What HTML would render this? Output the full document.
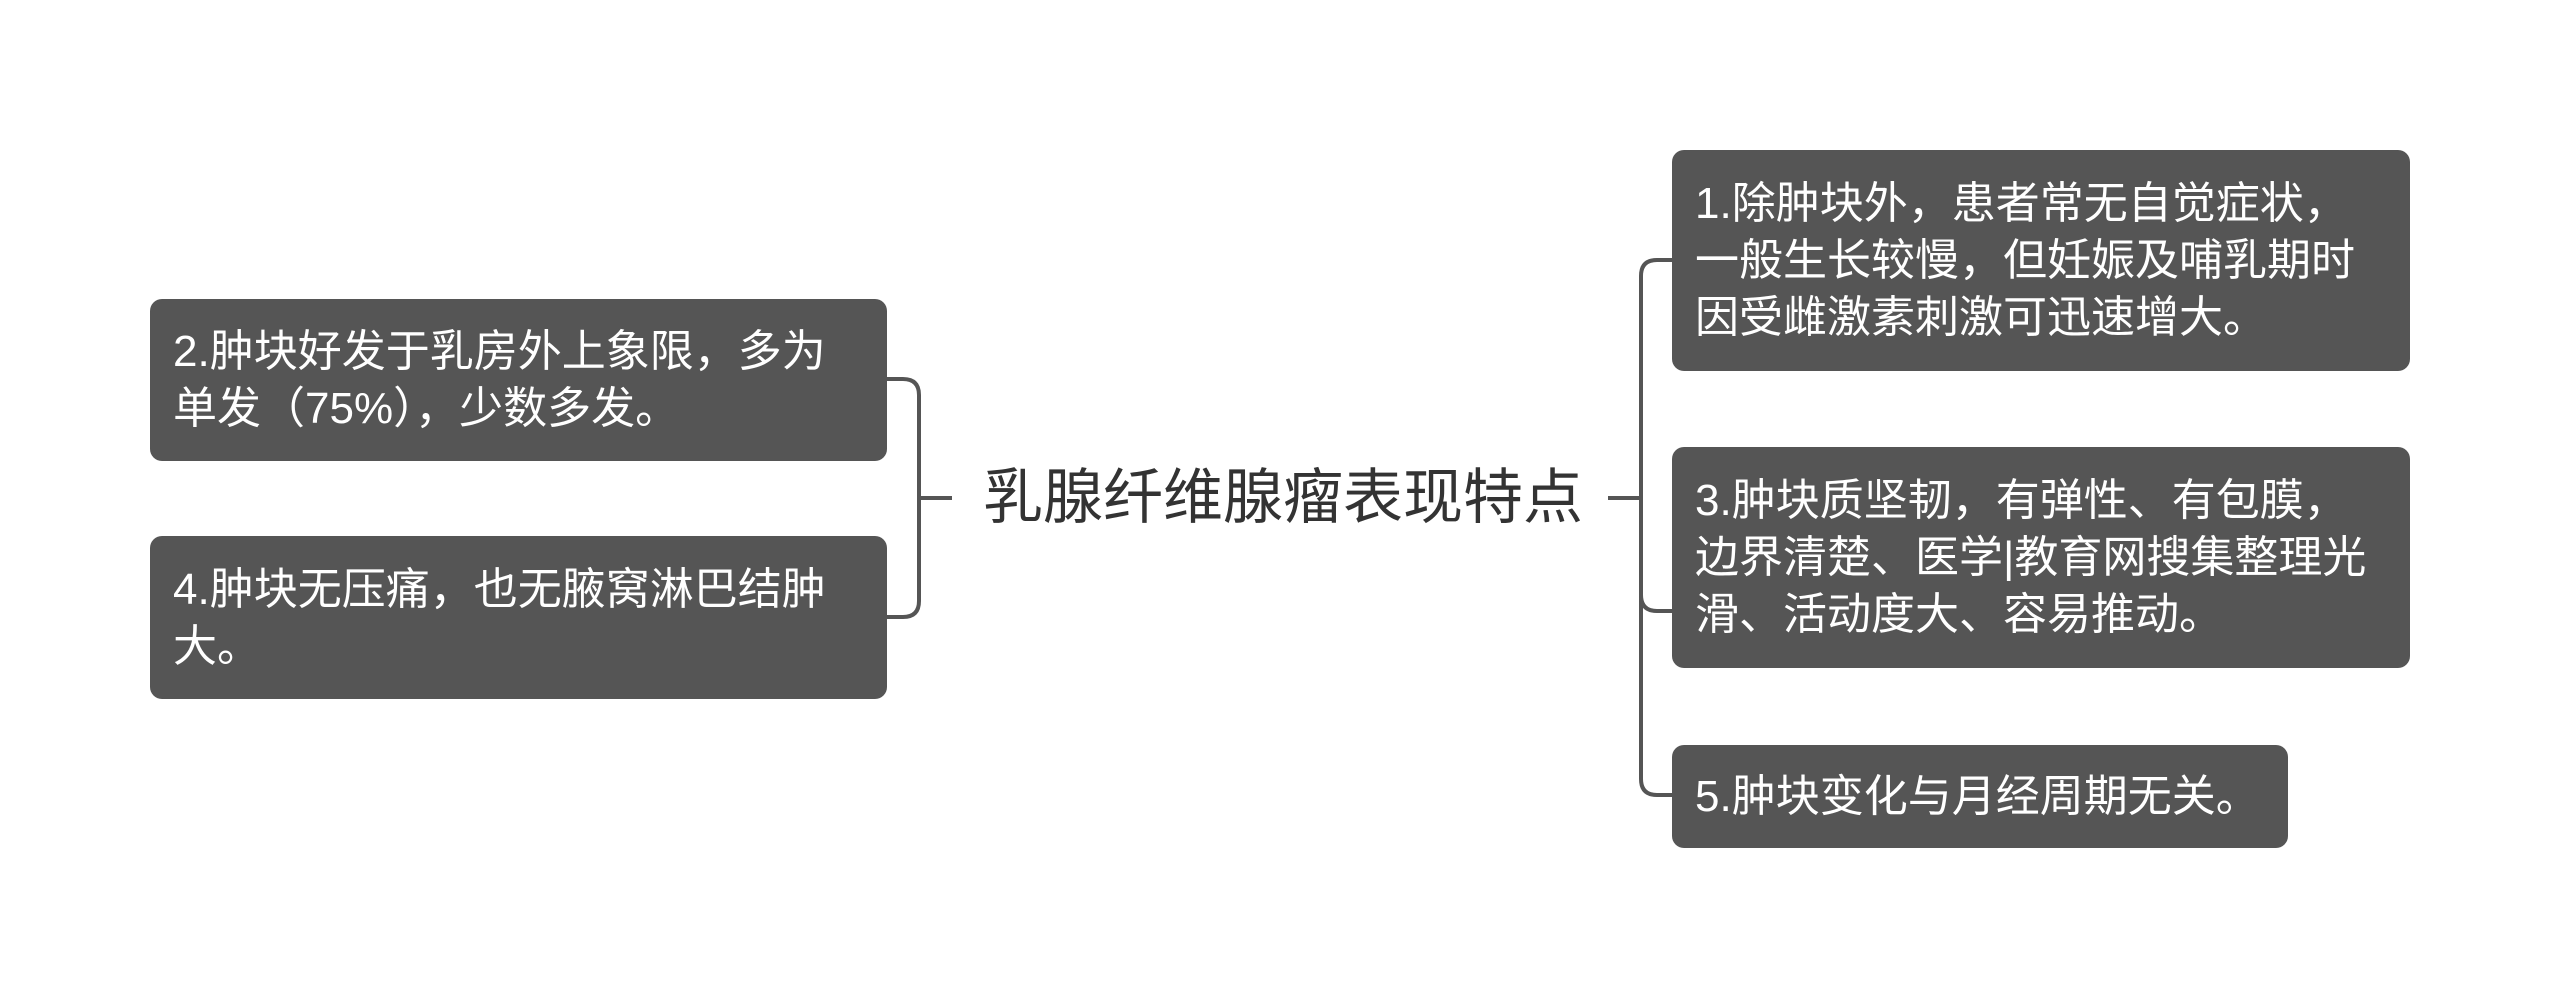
<!DOCTYPE html>
<html><head><meta charset="utf-8"><style>
html,body{margin:0;padding:0;background:#fff;width:2560px;height:997px;overflow:hidden;position:relative;font-family:"Liberation Sans","Noto Sans CJK SC",sans-serif}
.b{position:absolute;background:#555555;border-radius:12px;color:#fff;font-size:44px;line-height:57px;box-sizing:border-box;padding:0 10px 0 23px;display:flex;align-items:center;white-space:nowrap}
.c{position:absolute;left:983px;top:462px;font-size:60px;line-height:72px;color:#333;white-space:nowrap}
</style></head><body>
<svg width="2560" height="997" style="position:absolute;left:0;top:0">
<g fill="none" stroke="#555" stroke-width="4">
<path d="M886 379 H903 Q919 379 919 395 V601 Q919 617 903 617 H886"/>
<path d="M919 498 H952"/>
<path d="M1608 498 H1641"/>
<path d="M1672 260 H1657 Q1641 260 1641 276 V779 Q1641 795 1657 795 H1672"/>
<path d="M1641 595 Q1641 611 1657 611 H1672"/>
</g></svg>
<div class="b" style="left:150px;top:299px;width:737px;height:162px">2.肿块好发于乳房外上象限，多为<br>单发（75%），少数多发。</div>
<div class="b" style="left:150px;top:536px;width:737px;height:163px">4.肿块无压痛，也无腋窝淋巴结肿<br>大。</div>
<div class="c">乳腺纤维腺瘤表现特点</div>
<div class="b" style="left:1672px;top:150px;width:738px;height:221px">1.除肿块外，患者常无自觉症状，<br>一般生长较慢，但妊娠及哺乳期时<br>因受雌激素刺激可迅速增大。</div>
<div class="b" style="left:1672px;top:447px;width:738px;height:221px">3.肿块质坚韧，有弹性、有包膜，<br>边界清楚、医学|教育网搜集整理光<br>滑、活动度大、容易推动。</div>
<div class="b" style="left:1672px;top:745px;width:616px;height:103px">5.肿块变化与月经周期无关。</div>
</body></html>
